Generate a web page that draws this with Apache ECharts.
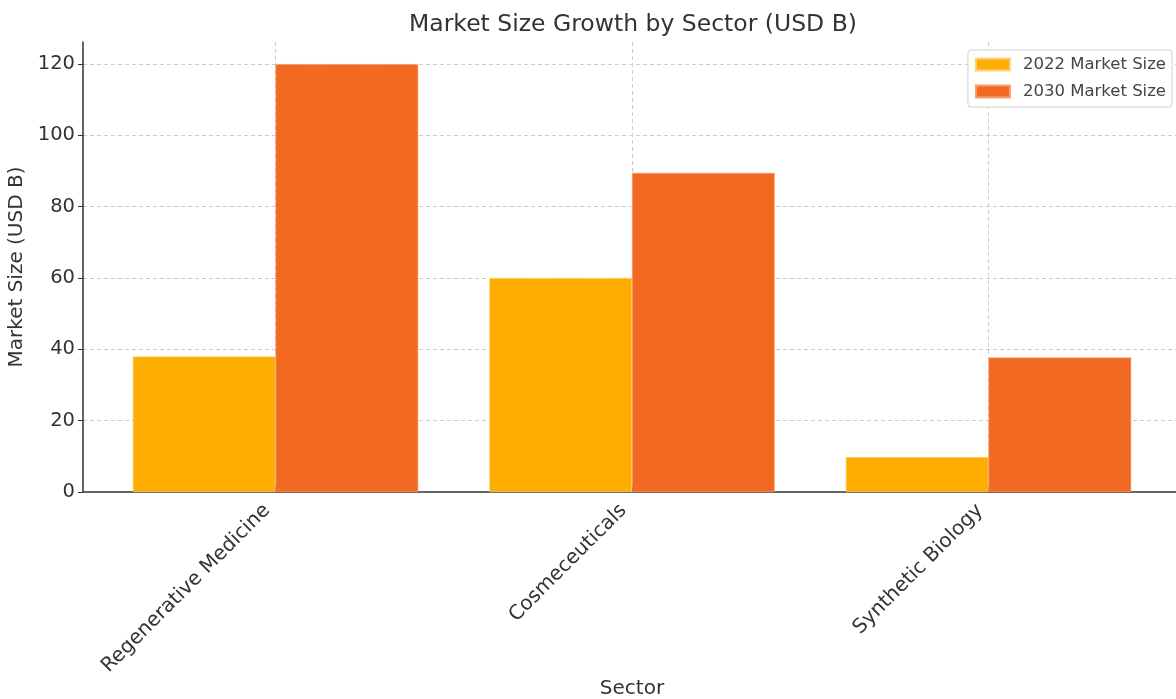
<!DOCTYPE html>
<html>
<head>
<meta charset="utf-8">
<script src="https://cdn.jsdelivr.net/npm/echarts@6/dist/echarts.min.js"></script>
<style>
  html, body { margin: 0; padding: 0; background: #fff; }
  #chart { width: 1176px; height: 699px; }
</style>
</head>
<body>
<div id="chart"></div>
<script>
// 数据
var sectors = ['Regenerative Medicine', 'Cosmeceuticals', 'Synthetic Biology'];
var size2022 = [38, 60, 9.8];
var size2030 = [120, 89.5, 37.7];
var yTicks = [0, 20, 40, 60, 80, 100, 120];

var font = 'DejaVu Sans';

function toPoints(arr) {
  return arr.map(function (v, i) { return [i, v]; });
}

var myChart = echarts.init(document.getElementById('chart'));
var option = {
  animation: false,
  textStyle: { fontFamily: font },
  title: {
    text: 'Market Size Growth by Sector (USD B)',
    left: 628,
    textAlign: 'center',
    top: 8,
    textStyle: { fontFamily: font, fontSize: 23.5, fontWeight: 'normal', color: '#333' }
  },
  legend: {
    orient: 'vertical',
    right: 4,
    top: 50,
    itemWidth: 34,
    itemHeight: 12,
    itemGap: 10,
    padding: [6, 6, 7, 7],
    borderColor: '#d0d0d0',
    borderWidth: 1,
    borderRadius: 3,
    backgroundColor: '#fff',
    icon: 'rect',
    textStyle: { fontFamily: font, fontSize: 16.5, color: '#444', padding: [0, 0, 0, 8] },
    data: ['2022 Market Size', '2030 Market Size']
  },
  grid: { left: 83, top: 42, width: 1098, bottom: 207, containLabel: false, outerBoundsMode: 'none' },
  xAxis: {
    type: 'value',
    min: -0.54,
    max: 2.54,
    name: 'Sector',
    nameLocation: 'middle',
    nameGap: 187,
    nameMoveOverlap: false,
    nameTextStyle: { fontFamily: font, fontSize: 20, color: '#333', verticalAlign: 'top' },
    axisLine: { show: true, onZero: false, lineStyle: { color: '#333', width: 1.5 } },
    axisTick: { show: true, customValues: [0, 1, 2], inside: true, length: 5, lineStyle: { color: '#333' } },
    axisLabel: {
      customValues: [0, 1, 2],
      rotate: 45,
      margin: 7,
      padding: [0, 12, 0, 0],
      fontFamily: font,
      fontSize: 20,
      color: '#333',
      formatter: function (v) { return sectors[Math.round(v)] || ''; }
    },
    splitLine: { show: true, lineStyle: { color: '#cccccc', type: [4, 3], width: 1 } }
  },
  yAxis: {
    type: 'value',
    min: 0,
    max: 126.2,
    interval: 20,
    name: 'Market Size (USD B)',
    nameLocation: 'middle',
    nameGap: 49,
    nameTextStyle: { fontFamily: font, fontSize: 20, color: '#333' },
    axisLine: { show: true, onZero: false, lineStyle: { color: '#333', width: 1.5 } },
    axisTick: { show: true, customValues: yTicks, length: 5, lineStyle: { color: '#333' } },
    axisLabel: {
      customValues: yTicks,
      fontFamily: font,
      fontSize: 19.5,
      color: '#333',
      margin: 8
    },
    splitLine: { show: true, showMinLine: false, lineStyle: { color: '#cccccc', type: [4, 3], width: 1 } }
  },
  series: [
    {
      name: '2022 Market Size',
      type: 'bar',
      barWidth: 142.7,
      barGap: '0%',
      itemStyle: { color: '#FEAE00', borderColor: '#FFD080', borderWidth: 0.6 },
      data: toPoints(size2022)
    },
    {
      name: '2030 Market Size',
      type: 'bar',
      barWidth: 142.7,
      barGap: '0%',
      itemStyle: { color: '#F26A22', borderColor: '#F8A070', borderWidth: 0.6 },
      data: toPoints(size2030)
    }
  ]
};
myChart.setOption(option);
</script>
</body>
</html>
